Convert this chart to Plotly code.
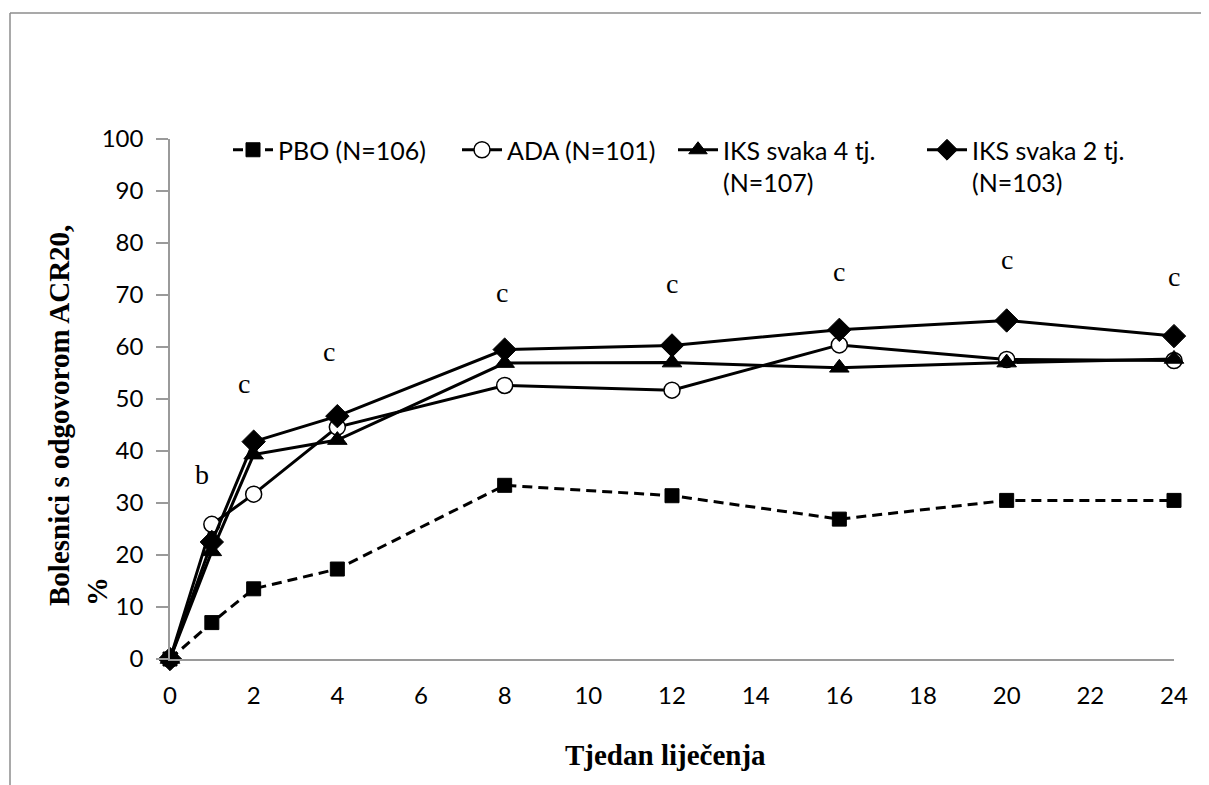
import plotly.graph_objects as go

weeks = [0, 1, 2, 4, 8, 12, 16, 20, 24]
pbo = [0, 7.0, 13.5, 17.3, 33.4, 31.4, 26.9, 30.5, 30.5]
ada = [0, 25.9, 31.7, 44.6, 52.6, 51.7, 60.4, 57.6, 57.4]
iks4 = [0, 20.7, 39.3, 42.1, 56.9, 57.0, 56.0, 57.0, 57.7]
iks2 = [0, 22.5, 41.8, 46.7, 59.5, 60.3, 63.3, 65.1, 62.1]

series_names = ["PBO (N=106)", "ADA (N=101)", "IKS svaka 4 tj.<br>(N=107)", "IKS svaka 2 tj.<br>(N=103)"]

sig_weeks = [0.76, 1.78, 3.8, 7.93, 12, 16, 20, 24]
sig_vals = [35.4, 53.0, 59.2, 70.5, 72.3, 74.5, 76.9, 73.6]
sig_text = ["b", "c", "c", "c", "c", "c", "c", "c"]

yticks = list(range(0, 101, 10))
xticks = list(range(0, 25, 2))

OFF = 8  # page body margin
W, H = 1209 - OFF, 785 - OFF
L, T, PW, PH = 170 - OFF, 139 - OFF, 1004, 520
R, B = W - L - PW, H - T - PH


def px(x):
    return (x - OFF - L) / PW


def py(y):
    return (T + PH - (y - OFF)) / PH


fig = go.Figure()

styles = [
    dict(symbol="square", size=14, color="black", line=dict(color="black", width=1), dash="10px,6px"),
    dict(symbol="circle", size=16, color="white", line=dict(color="black", width=1.5), dash="solid"),
    dict(symbol="triangle-up", size=17, color="black", line=dict(color="black", width=1), dash="solid"),
    dict(symbol="diamond", size=18, color="black", line=dict(color="black", width=1), dash="solid"),
]
data = [pbo, ada, iks4, iks2]
legends = ["legend", "legend2", "legend3", "legend4"]

for name, vals, st, lg in zip(series_names, data, styles, legends):
    fig.add_trace(go.Scatter(
        x=weeks, y=vals, name=name, mode="lines+markers",
        line=dict(color="black", width=3, dash=st["dash"]),
        marker=dict(symbol=st["symbol"], size=st["size"], color=st["color"], line=st["line"]),
        legend=lg, cliponaxis=False,
    ))

for wk, v, t in zip(sig_weeks, sig_vals, sig_text):
    fig.add_annotation(x=wk, y=v, text=t, showarrow=False, xanchor="center", yanchor="middle",
                       font=dict(family="Liberation Serif", size=28, color="black"))

# axis titles
fig.add_annotation(xref="paper", yref="paper", x=px(78), y=py(416), text="Bolesnici s odgovorom ACR20,<br>%",
                   textangle=-90, showarrow=False, align="left", xanchor="center", yanchor="middle",
                   font=dict(family="Liberation Serif", size=29, color="black", weight="bold"))
fig.add_annotation(xref="paper", yref="paper", x=px(665), y=py(755), text="Tjedan liječenja",
                   showarrow=False, xanchor="center", yanchor="middle",
                   font=dict(family="Liberation Serif", size=29, color="black", weight="bold"))

# outer frame (top and left edges visible in the reference)
frame_line = dict(color="#8c8c8c", width=1.5)
fig.add_shape(type="line", xref="paper", yref="paper", x0=px(10), x1=px(1230), y0=py(13), y1=py(13),
              line=frame_line, layer="below")
fig.add_shape(type="line", xref="paper", yref="paper", x0=px(10), x1=px(10), y0=py(13), y1=py(820),
              line=frame_line, layer="below")

leg_font = dict(family="Lato", size=25, color="black")
text_starts = [278, 507, 723, 972]
common = dict(font=leg_font, bgcolor="rgba(0,0,0,0)", borderwidth=0, valign="top",
              xanchor="left", yanchor="top", orientation="h", itemwidth=40)
fig.update_layout(
    legend=dict(x=px(text_starts[0] - 50), y=py(127), **common),
    legend2=dict(x=px(text_starts[1] - 50), y=py(127), **common),
    legend3=dict(x=px(text_starts[2] - 50), y=py(127), **common),
    legend4=dict(x=px(text_starts[3] - 50), y=py(127), **common),
)

fig.update_layout(
    width=W, height=H,
    margin=dict(l=L, r=R, t=T, b=B, pad=0),
    paper_bgcolor="white", plot_bgcolor="white",
    showlegend=True,
    xaxis=dict(range=[0, 24], tickvals=xticks, ticks="", showgrid=False, zeroline=False,
               showline=True, linecolor="#9a9a9a", linewidth=1.5,
               tickfont=dict(family="Lato", size=24, color="black"), ticklabelstandoff=14),
    yaxis=dict(range=[0, 100], tickvals=yticks, ticks="outside", ticklen=12, tickcolor="#9a9a9a",
               tickwidth=1.5, showgrid=False, zeroline=False,
               showline=True, linecolor="#9a9a9a", linewidth=1.5,
               tickfont=dict(family="Lato", size=24, color="black"), ticklabelstandoff=8),
)

fig.write_html("out.html")
